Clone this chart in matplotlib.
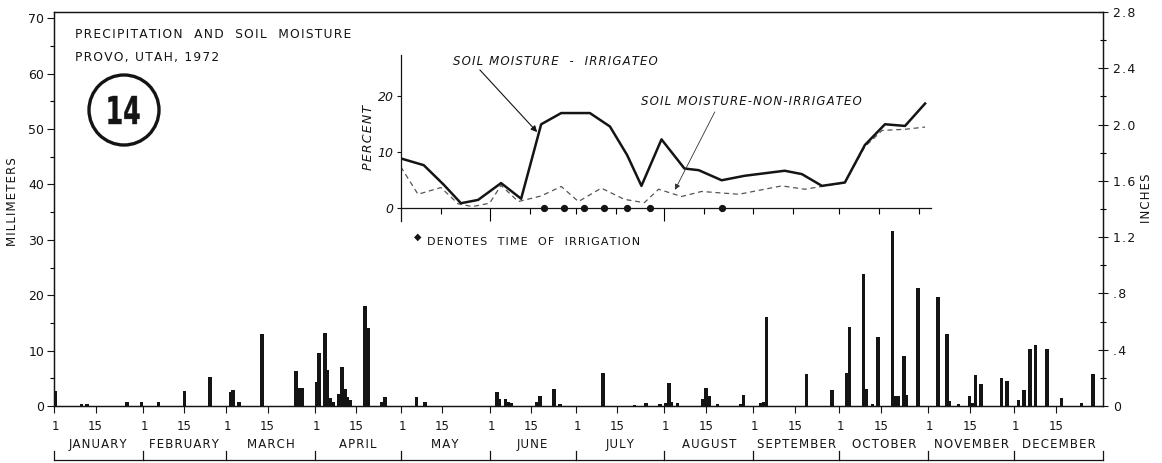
import numpy as np
import matplotlib.pyplot as plt
import matplotlib.transforms as mtransforms
from matplotlib.ticker import MultipleLocator, FixedLocator
from matplotlib.textpath import TextPath
from matplotlib.patches import PathPatch, Circle
from matplotlib.font_manager import FontProperties

# daily precipitation, Provo 1972 (day of year, millimeters)
rain_day = [1, 10, 12, 26, 31, 37, 46, 55, 62, 63, 65, 73, 85, 86, 87,
            92, 93, 95, 96, 97, 98, 100, 101, 102, 103, 104, 109, 110, 115, 116,
            127, 130, 155, 156, 158, 159, 160, 169, 170, 175, 177, 192,
            203, 207, 212, 214, 215, 216, 218, 227, 228, 229, 232, 240, 241,
            247, 248, 249, 263, 272, 277, 278, 283, 284, 286, 288, 293, 294, 295,
            297, 298, 302, 309, 312, 313, 316, 320, 321, 322, 324, 331, 333,
            337, 339, 341, 343, 347, 352, 359, 363]
rain_mm = [2.7, 0.3, 0.3, 0.7, 0.7, 0.7, 2.7, 5.2, 2.5, 2.9, 0.8, 13.0, 6.4, 3.3, 3.3,
           4.3, 9.5, 13.2, 6.5, 1.5, 0.8, 2.1, 7.0, 3.0, 1.6, 1.0, 18.0, 14.0, 0.8, 1.6,
           1.6, 0.7, 2.6, 1.2, 1.2, 0.8, 0.5, 0.8, 1.8, 3.0, 0.4, 6.0,
           0.2, 0.5, 0.4, 0.5, 4.2, 0.7, 0.5, 1.2, 3.2, 1.8, 0.3, 0.3, 2.0,
           0.5, 0.8, 16.0, 5.8, 2.8, 6.0, 14.2, 23.8, 3.0, 0.3, 12.4, 31.5, 1.8, 1.8,
           9.0, 2.0, 21.3, 19.7, 13.0, 0.9, 0.4, 1.8, 0.6, 5.6, 4.0, 5.0, 4.5,
           1.0, 2.8, 10.3, 11.0, 10.3, 1.5, 0.6, 5.7]

months = ["JANUARY", "FEBRUARY", "MARCH", "APRIL", "MAY", "JUNE", "JULY",
          "AUGUST", "SEPTEMBER", "OCTOBER", "NOVEMBER", "DECEMBER"]
month_start = [0, 31, 60, 91, 121, 152, 182, 213, 244, 274, 305, 335, 366]

inch_ticks = [0, 0.4, 0.8, 1.2, 1.6, 2.0, 2.4, 2.8]
inch_labels = ["0", ".4", ".8", "1.2", "1.6", "2.0", "2.4", "2.8"]

# soil moisture (days since Jan 1, percent)
irr_day = [121, 129, 136, 142, 148, 156, 163, 170, 177, 187, 194, 200, 205,
           212, 220, 225, 233, 241, 255, 261, 268, 276, 283, 290, 297, 304]
irr_pct = [8.8, 7.6, 4.1, 0.8, 1.4, 4.4, 1.6, 14.9, 16.9, 16.9, 14.5, 9.4, 3.9,
           12.2, 7.0, 6.7, 4.9, 5.7, 6.6, 6.0, 3.9, 4.5, 11.2, 14.9, 14.6, 18.6]
non_day = [121, 127, 135, 141, 146, 152, 156, 162, 170, 177, 183, 191, 199, 206,
           211, 219, 226, 239, 254, 262, 268, 276, 283, 289, 297, 304]
non_pct = [7.3, 2.4, 3.6, 0.7, 0.2, 0.8, 4.0, 1.1, 2.1, 3.8, 1.1, 3.5, 1.5, 0.9,
           3.3, 2.0, 2.9, 2.4, 3.9, 3.3, 3.8, 4.5, 10.9, 13.8, 14.0, 14.4]
irrigation_day = [171, 178, 185, 192, 200, 208, 233]

ink = "#141414"
W, H = 1162, 463


def spaced(s):
    # the lettering on the original is widely tracked
    return "\u200a".join(s)


fig = plt.figure(figsize=(W / 100, H / 100), dpi=100)
fig.patch.set_facecolor("white")

# main precipitation axes
ax = fig.add_axes([54 / W, (H - 406) / H, 1049 / W, 394 / H])
ax.bar(np.array(rain_day) - 0.5, rain_mm, width=1.2, color=ink)
ax.set_xlim(0, 366)
ax.set_ylim(0, 71.12)
ax.yaxis.set_major_locator(MultipleLocator(10))
ax.yaxis.set_minor_locator(MultipleLocator(5))
ax.tick_params(axis="y", which="major", direction="out", length=5, width=0.8,
               pad=2, labelsize=9, colors=ink)
ax.tick_params(axis="y", which="minor", direction="out", length=3, width=0.8)
xt = month_start[:-1] + [m + 14.5 for m in month_start[:-1]]
ax.set_xticks(xt)
ax.set_xticklabels([])
ax.tick_params(axis="x", direction="out", length=5, width=0.8, colors=ink)
for s in ax.spines.values():
    s.set_linewidth(0.9)
    s.set_color(ink)

ax2 = ax.twinx()
ax2.set_ylim(0, 2.8)
ax2.yaxis.set_major_locator(FixedLocator(inch_ticks))
ax2.set_yticklabels([spaced(t) for t in inch_labels])
ax2.yaxis.set_minor_locator(MultipleLocator(0.2))
ax2.tick_params(axis="y", which="major", direction="inout", length=7, width=0.8,
                pad=4, labelsize=9, colors=ink)
ax2.tick_params(axis="y", which="minor", direction="inout", length=4, width=0.8)
for s in ax2.spines.values():
    s.set_linewidth(0.9)
    s.set_color(ink)

# calendar strip below the axis
tr = mtransforms.blended_transform_factory(ax.transData, ax.transAxes)
for i, m in enumerate(months):
    a, b = month_start[i], month_start[i + 1]
    ax.text(a + 0.5, -0.053, "1", transform=tr, ha="center", va="center",
            fontsize=8.5, color=ink, clip_on=False)
    ax.text(a + 14.5, -0.053, "15", transform=tr, ha="center", va="center",
            fontsize=8.5, color=ink, clip_on=False)
    ax.text((a + b) / 2, -0.097, spaced(m), transform=tr, ha="center", va="center",
            fontsize=8.5, color=ink, clip_on=False)
for m in month_start:
    ax.plot([m, m], [-0.114, -0.137], transform=tr, color=ink, lw=0.9, clip_on=False)
ax.plot([0, 366], [-0.137, -0.137], transform=tr, color=ink, lw=0.9, clip_on=False)

fig.text(12 / W, 1 - 202 / H, spaced("MILLIMETERS"), rotation=90, ha="center",
         va="center", fontsize=8.5, color=ink)
fig.text(1147 / W, 1 - 198 / H, spaced("INCHES"), rotation=90, ha="center",
         va="center", fontsize=8.5, color=ink)

fig.text(75 / W, 1 - 35 / H, spaced("PRECIPITATION  AND  SOIL  MOISTURE"), ha="left",
         va="center", fontsize=8.8, color=ink)
fig.text(75 / W, 1 - 58 / H, spaced("PROVO, UTAH, 1972"), ha="left", va="center",
         fontsize=8.8, color=ink)

# circled plate number, drawn as a condensed outline
tp = TextPath((0, 0), "14", size=40, prop=FontProperties(family="DejaVu Sans",
                                                          weight="bold"))
bb = tp.get_extents()
cx, cy = 124, H - 110
num_tr = (mtransforms.Affine2D()
          .translate(-(bb.x0 + bb.width / 2), -(bb.y0 + bb.height / 2))
          .scale(31 / bb.width, 28 / bb.height)
          .translate(cx, cy)
          .scale(1 / 100) + fig.dpi_scale_trans)
fig.add_artist(PathPatch(tp, transform=num_tr, fc=ink, ec=ink, lw=0.3))
fig.add_artist(Circle((cx / 100, cy / 100), 35 / 100, transform=fig.dpi_scale_trans,
                      fill=False, ec=ink, lw=2.4))

# soil moisture inset
ai = fig.add_axes([400.8 / W, (H - 220.6) / H, 530 / W, 165.8 / H])
ai.patch.set_visible(False)
ai.set_xlim(121, 306)
ai.set_ylim(-2.3, 27.3)
ai.spines["top"].set_visible(False)
ai.spines["right"].set_visible(False)
ai.spines["bottom"].set_position(("data", 0))
for s in ai.spines.values():
    s.set_linewidth(0.9)
    s.set_color(ink)
ai.set_xticks([152, 213])
ai.set_xticks([135, 166, 182, 196, 227, 244, 258, 274, 288, 302], minor=True)
ai.tick_params(axis="x", which="major", direction="out", length=9, width=0.8,
               labelbottom=False)
ai.tick_params(axis="x", which="minor", direction="out", length=4.5, width=0.8)
ai.set_yticks([0, 10, 20])
ai.set_yticklabels(["0", "10", "20"], fontstyle="italic")
ai.tick_params(axis="y", direction="out", length=3, width=0.8, pad=2,
               labelsize=9, colors=ink)
ai.set_ylabel(spaced("PERCENT"), fontstyle="italic", fontsize=9, color=ink, labelpad=2)

ai.plot(non_day, non_pct, color="#555555", lw=0.9, ls=(0, (4, 3)))
ai.plot(irr_day, irr_pct, color=ink, lw=1.8)
ai.plot(irrigation_day, np.zeros(len(irrigation_day)), "o", ms=4.2, color=ink,
        clip_on=False)

ai.text(175, 26.1, spaced("SOIL MOISTURE  -  IRRIGATEO"), fontstyle="italic",
        fontsize=8.5, ha="center", va="center", color=ink)
ai.annotate("", xy=(168.6, 13.5), xytext=(148.6, 24.6),
            arrowprops=dict(arrowstyle="-|>", lw=0.8, color=ink, mutation_scale=9,
                            shrinkA=0, shrinkB=0))
ai.text(243.4, 18.9, spaced("SOIL MOISTURE-NON-IRRIGATEO"), fontstyle="italic",
        fontsize=8.5, ha="center", va="center", color=ink)
ai.annotate("", xy=(216.7, 3.2), xytext=(230.6, 17.1),
            arrowprops=dict(arrowstyle="-|>", lw=0.6, color="#333333",
                            mutation_scale=8, shrinkA=0, shrinkB=0))

fig.text(418 / W, 1 - 237 / H, "\u25c6", ha="center", va="center", fontsize=7, color=ink)
fig.text(427 / W, 1 - 242 / H, spaced("DENOTES  TIME  OF  IRRIGATION"), ha="left",
         va="center", fontsize=8, color=ink)

fig.savefig("out.png", dpi=100, facecolor="white")
